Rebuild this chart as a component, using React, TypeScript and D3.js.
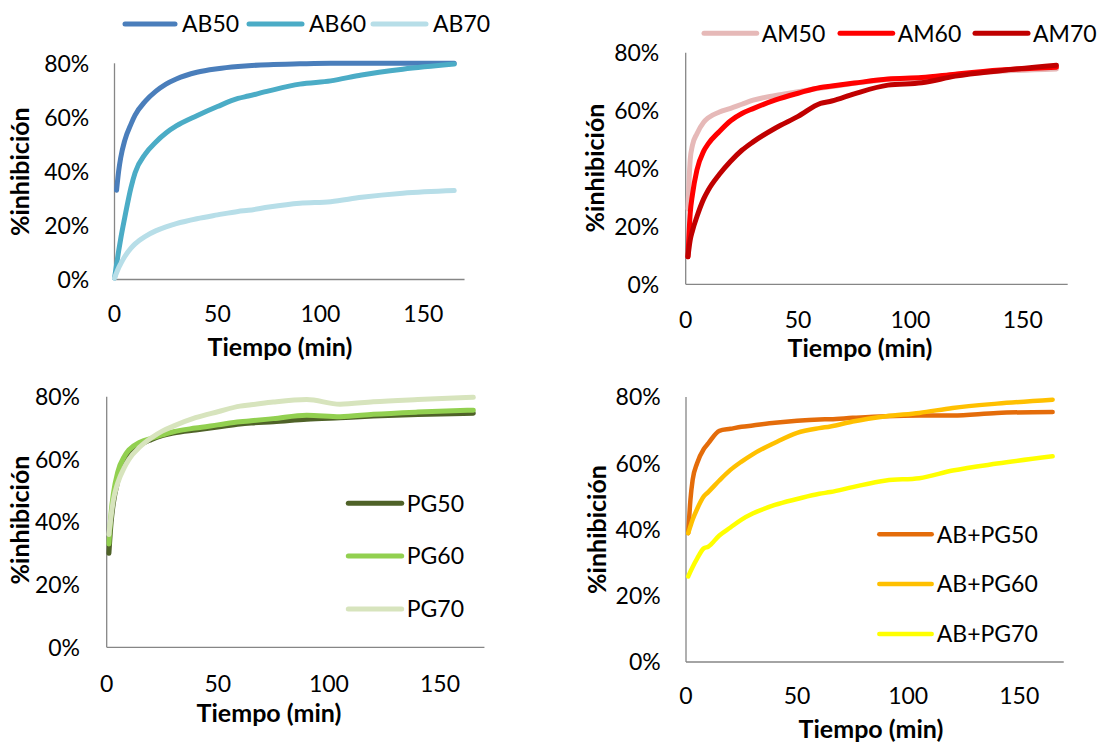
import React from "react";
import * as d3 from "d3";

// ---------- DATA ----------
const TIME = [0, 1, 2, 3, 5, 8, 10, 15, 20, 25, 30, 40, 50, 60, 65, 75, 90, 105, 120, 140, 165];

const AB50 = [null, 33, 40, 45, 51.5, 57.5, 60.8, 66, 69.6, 72.3, 74.2, 76.7, 78, 78.8, 79.1, 79.5, 79.8, 80, 80, 80, 80];
const AB60 = [0.5, 5.5, 10.5, 15, 23, 34, 39.5, 46.5, 50.8, 54.2, 56.8, 60.6, 64, 67, 67.9, 69.8, 72.3, 73.5, 75.7, 77.8, 79.7];
const AB70 = [0.5, 2.5, 4.3, 5.8, 8.5, 11.6, 13.2, 16, 18, 19.5, 20.7, 22.5, 23.9, 25.2, 25.6, 26.8, 28.2, 28.8, 30.4, 31.9, 32.9];

const AM50 = [null, 26, 43, 48, 52, 56, 57.5, 59.5, 60.8, 62.2, 63.6, 65.2, 66.5, 67.8, 68.3, 69.4, 70.7, 71.2, 72.4, 73.6, 74.4];
const AM60 = [null, 9.5, 24.5, 31, 39.5, 46, 48.5, 52.8, 56.5, 59, 60.7, 63.7, 66, 68, 68.5, 69.5, 70.9, 71.4, 72.6, 74, 75];
const AM70 = [null, 9.5, 15.3, 18.5, 23.4, 29.5, 32.5, 38, 42.5, 46.3, 49.2, 54, 58, 62.5, 63.3, 65.8, 68.8, 69.6, 71.9, 73.8, 75.7];

const PG50 = [null, 30, 40, 46, 53, 59, 61, 64.5, 66.3, 67.6, 68.4, 69.4, 70.3, 71.3, 71.6, 72, 72.8, 73.3, 73.8, 74.3, 74.7];
const PG60 = [null, 33, 43, 49, 56, 61, 63, 65.5, 66.7, 67.8, 68.8, 70, 71, 72, 72.3, 73, 74.1, 73.6, 74.4, 75.1, 75.7];
const PG70 = [null, 36, 42, 47, 52.5, 57.5, 60, 64, 66.8, 69, 70.6, 73.3, 75.2, 77, 77.4, 78.3, 79.1, 77.6, 78.4, 79.1, 79.8];

const ABPG50 = [null, 38.9, 49, 55, 60, 64.3, 66, 69.8, 70.4, 71, 71.4, 72.2, 72.8, 73.2, 73.3, 73.7, 74.2, 74.4, 74.4, 75.2, 75.5];
const ABPG60 = [null, 38.9, 41, 43, 46.2, 50, 51.3, 54.8, 58, 60.5, 62.7, 66.2, 69.2, 70.6, 71.1, 72.6, 74.2, 75.2, 76.7, 78, 79.2];
const ABPG70 = [null, 25.8, 27.3, 28.7, 31.2, 34.3, 34.8, 38.2, 40.6, 43, 44.8, 47.4, 49.2, 50.8, 51.3, 52.8, 54.8, 55.5, 57.8, 59.9, 62.1];

const X_TICKS = [0, 50, 100, 150];
const Y_TICKS = [0, 20, 40, 60, 80];
const X_TITLE = "Tiempo (min)";
const Y_TITLE = "%inhibición";

const P1_NAMES = ["AB50", "AB60", "AB70"];
const P2_NAMES = ["AM50", "AM60", "AM70"];
const P3_NAMES = ["PG50", "PG60", "PG70"];
const P4_NAMES = ["AB+PG50", "AB+PG60", "AB+PG70"];

// ---------- STYLE / LAYOUT ----------
const FONT = "Lato, 'Open Sans', sans-serif";
const AXIS_COLOR = "#868686";

type Layout = {
  x0: number; x1: number; y0: number; y80: number;
  tickRight: number; xTickY: number;
  xTitle: [number, number]; yTitle: [number, number];
  lw: number;
  legend: { kind: "h" | "v"; lines: [number, number, number][]; textGap: number };
};

const PANELS: { layout: Layout; names: string[]; series: (number | null)[][]; colors: string[] }[] = [
  {
    names: P1_NAMES, series: [AB50, AB60, AB70], colors: ["#4A7EBB", "#4BACC6", "#B7DEE8"],
    layout: {
      x0: 114.5, x1: 114.5 + 170 * 2.059, y0: 279.5, y80: 63.3, tickRight: 89.3, xTickY: 313.3,
      xTitle: [280, 346.7], yTitle: [20, 171.7], lw: 5,
      legend: { kind: "h", lines: [[125, 175, 24], [249, 302, 24], [373, 426, 24]], textGap: 7 },
    },
  },
  {
    names: P2_NAMES, series: [AM50, AM60, AM70], colors: ["#E6B9B8", "#FF0000", "#C00000"],
    layout: {
      x0: 685.7, x1: 685.7 + 170 * 2.247, y0: 284.3, y80: 52.7, tickRight: 659.3, xTickY: 319.3,
      xTitle: [860, 348], yTitle: [595, 168], lw: 5,
      legend: { kind: "h", lines: [[704, 756.7, 33.3], [840, 892.7, 33.3], [975, 1028, 33.3]], textGap: 5 },
    },
  },
  {
    names: P3_NAMES, series: [PG50, PG60, PG70], colors: ["#4F6228", "#92D050", "#D7E4BD"],
    layout: {
      x0: 106.7, x1: 106.7 + 170 * 2.222, y0: 647.3, y80: 396.7, tickRight: 80, xTickY: 683.3,
      xTitle: [269, 713], yTitle: [20, 520], lw: 5,
      legend: { kind: "v", lines: [[348.3, 401.7, 503.3], [348.3, 401.7, 556], [348.3, 401.7, 609]], textGap: 5 },
    },
  },
  {
    names: P4_NAMES, series: [ABPG50, ABPG60, ABPG70], colors: ["#E46C0A", "#FFC000", "#FFFF00"],
    layout: {
      x0: 686, x1: 686 + 170 * 2.222, y0: 662, y80: 397, tickRight: 660.7, xTickY: 696,
      xTitle: [871, 728.5], yTitle: [597, 529.5], lw: 4.5,
      legend: { kind: "v", lines: [[879.3, 931.7, 534.3], [879.3, 931.7, 584], [879.3, 931.7, 634]], textGap: 5 },
    },
  },
];

const FS = 23;
const FS_TITLE = 25;

function Panel({ layout, names, series, colors }: (typeof PANELS)[number]) {
  const x = d3.scaleLinear().domain([0, 170]).range([layout.x0, layout.x1]);
  const y = d3.scaleLinear().domain([0, 80]).range([layout.y0, layout.y80]);
  const line = d3
    .line<[number, number | null]>()
    .defined((d) => d[1] != null)
    .x((d) => x(d[0]))
    .y((d) => y(d[1] as number))
    .curve(d3.curveMonotoneX);

  return (
    <g>
      <line x1={layout.x0} x2={layout.x0} y1={layout.y0} y2={layout.y80} stroke={AXIS_COLOR} strokeWidth={1.3} />
      <line x1={layout.x0} x2={layout.x1} y1={layout.y0} y2={layout.y0} stroke={AXIS_COLOR} strokeWidth={1.3} />
      {Y_TICKS.map((t) => (
        <text key={"y" + t} x={layout.tickRight} y={y(t)} dy="0.36em" textAnchor="end" fontSize={FS} fontFamily={FONT} fill="#000">
          {t + "%"}
        </text>
      ))}
      {X_TICKS.map((t) => (
        <text key={"x" + t} x={x(t)} y={layout.xTickY} dy="0.36em" textAnchor="middle" fontSize={FS} fontFamily={FONT} fill="#000">
          {t}
        </text>
      ))}
      <text x={layout.xTitle[0]} y={layout.xTitle[1]} dy="0.36em" textAnchor="middle" fontSize={FS_TITLE} fontWeight="bold" fontFamily={FONT} fill="#000">
        {X_TITLE}
      </text>
      <text
        transform={`translate(${layout.yTitle[0]},${layout.yTitle[1]}) rotate(-90)`}
        dy="0.36em" textAnchor="middle" fontSize={FS_TITLE} fontWeight="bold" fontFamily={FONT} fill="#000"
      >
        {Y_TITLE}
      </text>
      {series.map((s, i) => (
        <path
          key={names[i]}
          d={line(TIME.map((t, k) => [t, s[k]] as [number, number | null])) || ""}
          fill="none" stroke={colors[i]} strokeWidth={layout.lw} strokeLinecap="round" strokeLinejoin="round"
        />
      ))}
      {layout.legend.lines.map(([a, b, ly], i) => (
        <g key={"lg" + i}>
          <line x1={a} x2={b} y1={ly} y2={ly} stroke={colors[i]} strokeWidth={layout.lw} strokeLinecap="round" />
          <text x={b + layout.legend.textGap} y={ly} dy="0.36em" fontSize={FS} fontFamily={FONT} fill="#000">
            {names[i]}
          </text>
        </g>
      ))}
    </g>
  );
}

export default function App() {
  return (
    <svg width={1103} height={742} style={{ position: "absolute", left: 0, top: 0, background: "#fff" }}>
      <rect width={1103} height={742} fill="#fff" />
      {PANELS.map((p, i) => (
        <Panel key={i} {...p} />
      ))}
    </svg>
  );
}
